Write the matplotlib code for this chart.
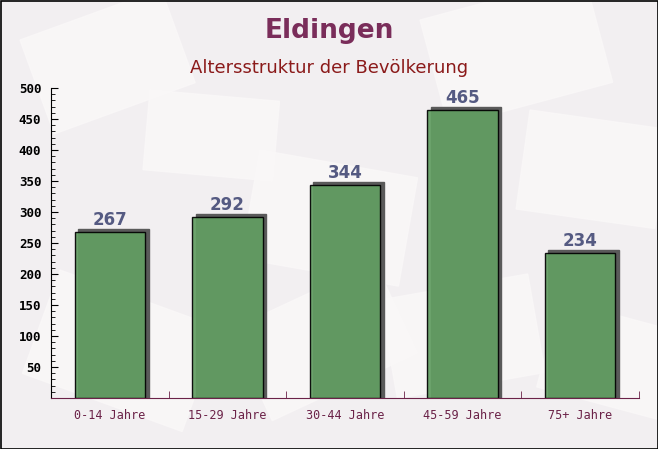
import matplotlib
matplotlib.use("Agg")
import matplotlib.pyplot as plt
from matplotlib.patches import Rectangle
import numpy as np

categories = ["0-14 Jahre", "15-29 Jahre", "30-44 Jahre", "45-59 Jahre", "75+ Jahre"]
values = [267, 292, 344, 465, 234]
y_ticks = [50, 100, 150, 200, 250, 300, 350, 400, 450, 500]

title = "Eldingen"
subtitle = "Altersstruktur der Bevölkerung"


def draw_background(fig):
    # faint "envelope" shapes behind the chart
    bg = fig.add_axes([0, 0, 1, 1], zorder=-10)
    bg.set_xlim(0, 658)
    bg.set_ylim(449, 0)
    bg.axis("off")
    bg.add_patch(Rectangle((0, 0), 658, 449, color="#f2eff1"))
    shapes = [(20, 40, 150, 100, -20), (260, 150, 160, 110, 10), (420, 20, 170, 110, -15),
              (530, 110, 140, 100, 8), (60, 270, 170, 110, 20), (380, 300, 150, 100, -10),
              (150, 90, 130, 80, 5), (560, 300, 130, 90, 15), (230, 330, 160, 100, -25)]
    for x, y, w, h, a in shapes:
        r = Rectangle((x, y), w, h, angle=a, color="#faf8f8", alpha=0.8)
        bg.add_patch(r)
    bg.add_patch(Rectangle((0.5, 0.5), 657, 448, fill=False, edgecolor="black", lw=1.2))


def main():
    fig = plt.figure(figsize=(6.58, 4.49), dpi=100)
    draw_background(fig)

    ax = fig.add_axes([51 / 658, 51 / 449, 588 / 658, 310 / 449])
    ax.patch.set_alpha(0)

    x = np.arange(len(categories))
    width = 0.6
    # shadow slightly to the right and up
    for xi, v in zip(x, values):
        ax.add_patch(Rectangle((xi - width / 2 + 0.03, 0), width, v + 5,
                               color="#5a5a5a", zorder=1))
    ax.bar(x, values, width=width, color="#629e62", alpha=0.92,
           edgecolor="black", linewidth=1, zorder=2)

    for xi, v in zip(x, values):
        ax.text(xi, v + 5, str(v), ha="center", va="bottom", fontsize=12,
                fontweight="bold", color="#555a82", family="DejaVu Sans")

    ax.set_xlim(-0.5, len(categories) - 0.5)
    ax.set_ylim(0, 500)
    ax.set_yticks(y_ticks)
    ax.set_yticks(np.arange(0, 501, 10), minor=True)
    ax.set_xticks(x)
    ax.set_xticklabels(categories)
    ax.set_xticks(np.arange(0.5, len(categories), 1), minor=True)

    for lbl in ax.get_yticklabels():
        lbl.set_family("DejaVu Sans Mono")
        lbl.set_fontweight("bold")
        lbl.set_fontsize(9)
    for lbl in ax.get_xticklabels():
        lbl.set_family("DejaVu Sans Mono")
        lbl.set_fontsize(8.5)
        lbl.set_color("#6b2248")

    ax.tick_params(axis="y", which="major", length=5, direction="in", pad=7)
    ax.tick_params(axis="y", which="minor", length=3, direction="in")
    ax.tick_params(axis="x", which="major", length=0, pad=8)
    ax.tick_params(axis="x", which="minor", length=5, direction="in", color="#6b2248")

    ax.spines["top"].set_visible(False)
    ax.spines["right"].set_visible(False)
    ax.spines["bottom"].set_color("#6b2248")

    fig.text(0.5, 0.93, title, ha="center", va="center", fontsize=19,
             fontweight="bold", color="#7a2d5a")
    fig.text(0.5, 0.848, subtitle, ha="center", va="center", fontsize=13,
             color="#8b1a1a")

    fig.savefig("out.png", dpi=100)


if __name__ == "__main__":
    main()
